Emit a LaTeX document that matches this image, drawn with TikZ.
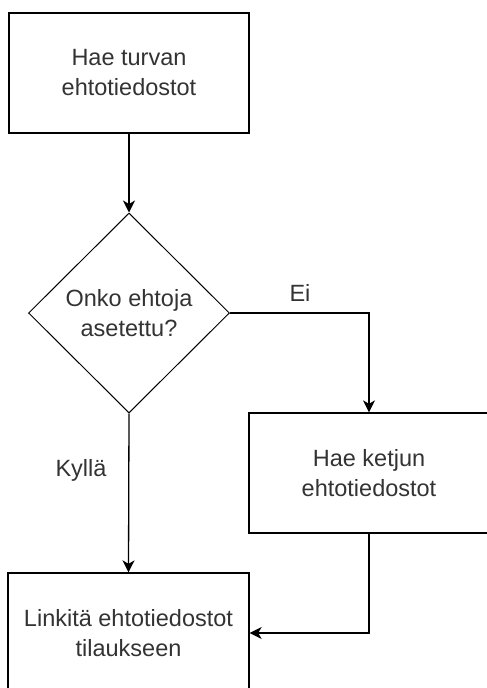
\documentclass[tikz,border=0pt]{standalone}
\usepackage{fontspec}
\setmainfont{Liberation Sans}
\usetikzlibrary{shapes.geometric,arrows.meta}
\begin{document}
\begin{tikzpicture}[x=1pt,y=-1pt,
  box/.style={draw=black, line width=1.3pt, minimum width=240pt, minimum height=120pt, inner sep=0pt, align=center, text=black!80, font=\fontsize{23.5}{30}\selectfont},
  dec/.style={draw=black, line width=1pt, shape=diamond, minimum width=201pt, minimum height=200pt, inner sep=0pt, align=center, text=black!80, font=\fontsize{23.5}{30}\selectfont},
  conn/.style={draw=black, line width=1.3pt, -{Stealth[length=12pt,width=12pt,inset=3.5pt]}},
  lbl/.style={text=black!80, font=\fontsize{23.5}{30}\selectfont}]
\useasboundingbox[fill=white] (0,0) rectangle (487,688);
\node[box] (a) at (129,73) {Hae turvan\\ehtotiedostot};
\node[dec] (d) at (129,313) {Onko ehtoja\\asetettu?};
\node[box] (b) at (369,473) {Hae ketjun\\ehtotiedostot};
\node[box, minimum width=241pt] (c) at (128.5,633) {Linkitä ehtotiedostot\\tilaukseen};
\draw[conn] (a.south) -- (d.north);
\draw[conn] (d.east) -| (b.north);
\draw[conn] (d.south) -- (c.north);
\draw[conn] (b.south) |- (c.east);
\node[lbl] (ei) at (300,293) {Ei};
\node[lbl] (ky) at (81,470) {Kyllä};
\end{tikzpicture}
\end{document}
